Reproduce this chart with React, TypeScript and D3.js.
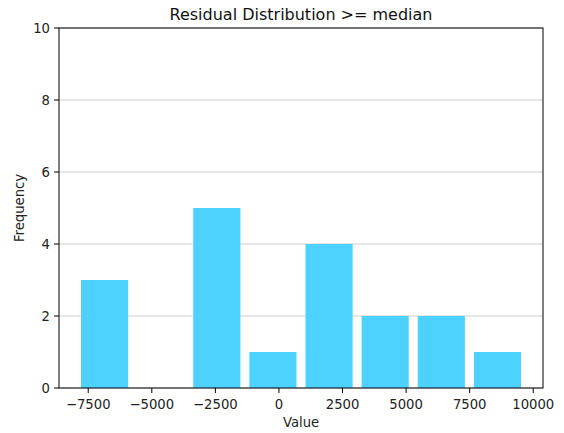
import React from "react";
import * as d3 from "d3";

const counts = [3, 0, 5, 1, 4, 2, 2, 1];
const binStart = -7961;
const binWidth = 2207;
const rwidth = 0.84;
const xTicks = [-7500, -5000, -2500, 0, 2500, 5000, 7500, 10000];
const yTicks = [0, 2, 4, 6, 8, 10];
const title = "Residual Distribution >= median";
const xLabel = "Value";
const yLabel = "Frequency";

const W = 564;
const H = 433;
const M = { left: 59, right: 21, top: 28, bottom: 45 };
const FONT = "DejaVu Sans, sans-serif";
const FS = 13.2;

export default function App() {
  const bars = counts.map((c, i) => {
    const x0 = binStart + i * binWidth + ((1 - rwidth) / 2) * binWidth;
    return { x0, x1: x0 + rwidth * binWidth, c };
  });
  const lo = bars[0].x0;
  const hi = bars[bars.length - 1].x1;
  const pad = (hi - lo) * 0.05;
  const x = d3.scaleLinear().domain([lo - pad, hi + pad]).range([M.left, W - M.right]);
  const y = d3.scaleLinear().domain([0, 10]).range([H - M.bottom, M.top]);
  const fmt = (v: number) => (v < 0 ? "\u2212" + Math.abs(v) : String(v));

  return (
    <svg width={W} height={H} style={{ position: "absolute", left: 0, top: 0 }} fontFamily={FONT}>
      <rect width={W} height={H} fill="#fff" />
      {yTicks.map((t) => (
        <line key={"g" + t} x1={M.left} x2={W - M.right} y1={y(t)} y2={y(t)} stroke="#cfcfcf" strokeWidth={1} />
      ))}
      {bars.map((b, i) =>
        b.c > 0 ? (
          <rect key={i} x={x(b.x0)} width={x(b.x1) - x(b.x0)} y={y(b.c)} height={y(0) - y(b.c)} fill="#4DD2FF" />
        ) : null
      )}
      <rect x={M.left} y={M.top} width={W - M.right - M.left} height={H - M.bottom - M.top} fill="none" stroke="#000" strokeWidth={1} />
      {xTicks.map((t) => (
        <g key={"x" + t} transform={`translate(${x(t)},${y(0)})`}>
          <line y1={0} y2={5} stroke="#000" />
          <text y={21} textAnchor="middle" fontSize={FS} fill="#222">{fmt(t)}</text>
        </g>
      ))}
      {yTicks.map((t) => (
        <g key={"y" + t} transform={`translate(${M.left},${y(t)})`}>
          <line x1={-5} x2={0} stroke="#000" />
          <text x={-9} dy="0.35em" textAnchor="end" fontSize={FS} fill="#222">{t}</text>
        </g>
      ))}
      <text x={(M.left + W - M.right) / 2} y={427} textAnchor="middle" fontSize={FS} fill="#222">{xLabel}</text>
      <text transform={`translate(24,${(M.top + H - M.bottom) / 2}) rotate(-90)`} textAnchor="middle" fontSize={FS} fill="#222">{yLabel}</text>
      <text x={(M.left + W - M.right) / 2} y={20} textAnchor="middle" fontSize={16} fill="#111">{title}</text>
    </svg>
  );
}
